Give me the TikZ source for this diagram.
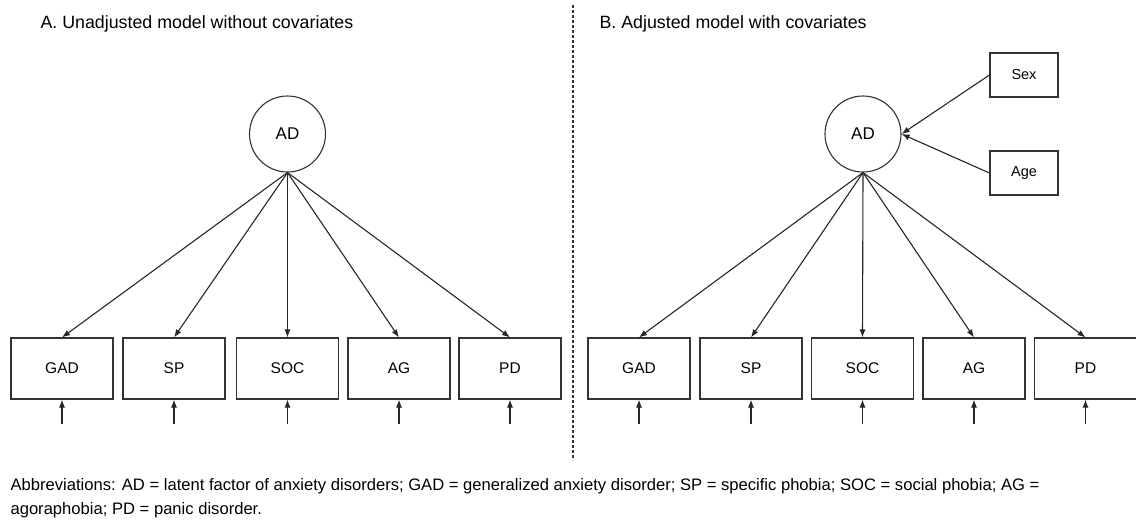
\documentclass[tikz,border=0pt]{standalone}
\usepackage{fontspec}
\setmainfont{Liberation Sans}
\usetikzlibrary{arrows.meta}
\begin{document}
\begin{tikzpicture}[x=1pt,y=-1pt,
  line width=1.1pt, draw=black!85,
  obs/.style={draw=black!80, line width=1.1pt, minimum width=102pt, minimum height=61pt, inner sep=0pt, font=\fontsize{15.5}{18}\selectfont},
  cov/.style={draw=black!80, line width=1.1pt, minimum width=68pt, minimum height=44pt, inner sep=0pt, font=\fontsize{14.5}{17}\selectfont},
  lat/.style={draw=black!80, line width=1.1pt, circle, minimum size=76pt, inner sep=0pt, font=\fontsize{17}{20}\selectfont},
  path/.style={draw=black!85, line width=1.1pt, -{Latex[length=8pt,width=6pt]}},
  ttl/.style={anchor=base west, inner sep=0pt, font=\fontsize{17.8}{21}\selectfont},
  note/.style={anchor=base west, inner sep=0pt, font=\fontsize{16.6}{20}\selectfont}
]
\useasboundingbox (0,0) rectangle (1136,523);
% titles
\node[ttl] (tA) at (40,28) {A. Unadjusted model without covariates};
\node[ttl] (tB) at (599,28) {B. Adjusted model with covariates};
% divider
\coordinate (d1) at (573,5);
\coordinate (d2) at (573,460);
\draw[black!80, line width=1.1pt, dash pattern=on 2.5pt off 2.5pt] (d1) -- (d2);
% panel A
\node[lat] (adA) at (287.5,134) {AD};
\node[obs] (gadA) at (62,368.5) {GAD};
\node[obs] (spA) at (174,368.5) {SP};
\node[obs] (socA) at (287.5,368.5) {SOC};
\node[obs] (agA) at (399,368.5) {AG};
\node[obs] (pdA) at (510,368.5) {PD};
\foreach \n in {gadA,spA,socA,agA,pdA}{
  \draw[path] (adA.south) -- (\n.north);
  \coordinate (e\n) at ([yshift=-24pt]\n.south);
  \draw[path] (e\n) -- (\n.south);
}
% panel B
\node[lat] (adB) at (863,134) {AD};
\node[cov] (sex) at (1024,75) {Sex};
\node[cov] (age) at (1024,173) {Age};
\node[obs] (gadB) at (639,368.5) {GAD};
\node[obs] (spB) at (751,368.5) {SP};
\node[obs] (socB) at (862.5,368.5) {SOC};
\node[obs] (agB) at (974,368.5) {AG};
\node[obs] (pdB) at (1085.5,368.5) {PD};
\foreach \n in {gadB,spB,socB,agB,pdB}{
  \draw[path] (adB.south) -- (\n.north);
  \coordinate (e\n) at ([yshift=-24pt]\n.south);
  \draw[path] (e\n) -- (\n.south);
}
\draw[path] (sex.west) -- (adB.east);
\draw[path] (age.west) -- (adB.east);
% note
\node[note] (n1) at (10,490) {Abbreviations: AD = latent factor of anxiety disorders; GAD = generalized anxiety disorder; SP = specific phobia; SOC = social phobia; AG =};
\node[note] (n2) at (10,514) {agoraphobia; PD = panic disorder.};
\end{tikzpicture}
\end{document}
